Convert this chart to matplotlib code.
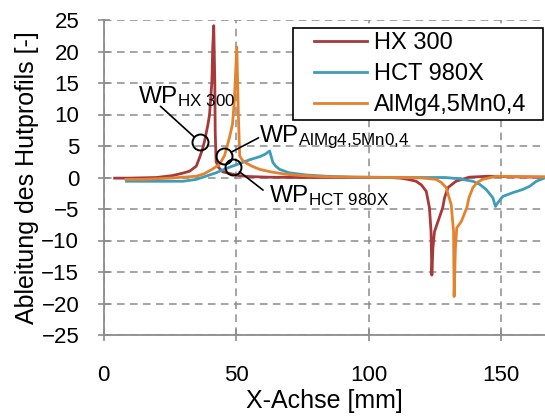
import matplotlib
matplotlib.use("Agg")
import matplotlib.pyplot as plt
from matplotlib.patches import Rectangle

plt.rcParams['font.family'] = ['Liberation Sans', 'DejaVu Sans']
plt.rcParams['mathtext.fontset'] = 'custom'
plt.rcParams['mathtext.rm'] = 'Liberation Sans'
plt.rcParams['mathtext.it'] = 'Liberation Sans'

# ---- data ----
hx_x = [4.2, 10, 20, 26, 30, 32.5, 35, 36.2, 37.2, 38.1, 39.4, 40.0, 40.9, 41.2, 41.6, 42.0, 42.15, 42.5,
        43.4, 45, 48, 51, 55, 62, 75, 95, 108, 112, 115, 118, 120, 121.8, 123, 123.6, 123.9, 124.3,
        124.9, 126.2, 128, 128.7, 130, 133, 138, 145, 155, 166.6]
hx_y = [-0.1, -0.1, 0, 0.3, 0.7, 1.0, 1.8, 3.1, 4.3, 5.7, 8.4, 9.9, 15.2, 20.5, 24.1, 15.2, 7.3, 2.5,
        1.6, 0.9, 0.6, 0.3, 0.15, 0.05, 0, 0, 0, -0.1, -0.3, -0.6, -1.2, -2.2, -4.8, -8.6, -15.5, -11.2,
        -8.6, -7.0, -4.8, -3.2, -1.6, -0.6, 0.05, 0.2, 0.1, 0.05]

hct_x = [8.7, 20, 30, 35, 40, 42.5, 45, 48, 51.3, 55, 58.9, 61, 62.7, 63.9, 65, 66.4, 70, 76.5, 84, 95,
         110, 125, 129, 134, 139.4, 142, 144.4, 146.9, 147.9, 148.8, 150.7, 154.5, 158.2, 160.8,
         163.3, 166.6]
hct_y = [-0.6, -0.6, -0.6, -0.3, 0.4, 0.75, 1.2, 1.7, 2.2, 2.8, 3.3, 3.7, 4.2, 2.4, 1.8, 1.3, 0.75,
         0.4, 0.2, 0.05, 0, 0, 0, -0.2, -0.6, -1.1, -1.9, -3.2, -4.6, -4.0, -3.0, -2.4, -1.9, -1.4,
         -0.6, -0.05]

al_x = [8.5, 15, 25, 35, 38, 41, 43.8, 45.7, 47.5, 48.7, 49.4, 50.3, 50.9, 51.4, 52.5, 53.8, 56, 58.9,
        63, 69, 75, 85, 100, 115, 119, 122, 125.5, 127.5, 129.3, 131.2, 132.1, 132.3, 132.8, 133.3,
        135, 137.1, 137.9, 139.4, 141, 143.1, 148.2, 155, 166.6]
al_y = [-0.3, -0.3, -0.1, 0.2, 0.6, 1.3, 2.1, 3.5, 6.3, 8.5, 12.4, 20.7, 9.8, 3.4, 2.7, 2.3, 1.8, 1.3,
        0.9, 0.5, 0.3, 0.1, 0.05, 0, -0.05, -0.15, -0.3, -0.8, -1.6, -4.3, -8.6, -18.9, -11.2, -8.0,
        -7.0, -4.8, -3.2, -1.6, -0.8, -0.3, 0.2, 0.15, 0.1]

series_names = ["HX 300", "HCT 980X", "AlMg4,5Mn0,4"]
series_colors = ["#A8393A", "#3E9DBA", "#E5822F"]

# turning points (WP)
wp_x = [36.4, 45.4, 48.9]
wp_y = [5.6, 3.4, 1.7]
wp_labels = [r"WP$_{\rm HX\ 300}$", r"WP$_{\rm AlMg4{,}5Mn0{,}4}$", r"WP$_{\rm HCT\ 980X}$"]
wp_text_pos = [(13.0, 11.8), (58.6, 5.6), (62.4, -3.9)]
wp_line_start = [(21.5, 11.3), (58.5, 6.3), (60.2, -2.0)]

xticks = [0, 50, 100, 150]
yticks = list(range(-25, 26, 5))

fig = plt.figure(figsize=(5.45, 4.16), dpi=100)
ax = fig.add_axes([103.5 / 545, 81 / 416, 1 - 103.5 / 545, (335 - 20) / 416])

gridc = "#8c8c8c"
ax.set_xlim(0, 166.6)
ax.set_ylim(-25, 25)
ax.set_xticks(xticks)
ax.set_yticks(yticks)
ax.grid(True, color=gridc, linestyle=(0, (5, 3.5)), linewidth=1.1)
ax.set_axisbelow(True)
for s in ["top", "right"]:
    ax.spines[s].set_visible(False)
for s in ["left", "bottom"]:
    ax.spines[s].set_color(gridc)
    ax.spines[s].set_linewidth(1.3)
ax.tick_params(direction="inout", length=9, width=1.2, color=gridc, labelsize=16)
ax.tick_params(axis="x", pad=17)
ax.tick_params(axis="y", pad=13)

for xs, ys, name, c in zip([hx_x, hct_x, al_x], [hx_y, hct_y, al_y], series_names, series_colors):
    ax.plot(xs, ys, color=c, linewidth=2.0, label=name, solid_joinstyle="round")

for (px, py), lab, (tx, ty), (lx, ly) in zip(zip(wp_x, wp_y), wp_labels, wp_text_pos, wp_line_start):
    ax.plot([px], [py], marker="o", markersize=11.5, mfc="none", mec="black", mew=1.4, zorder=5)
    ax.annotate("", xy=(px, py), xytext=(lx, ly),
                arrowprops=dict(arrowstyle="-", color="black", lw=1.2, shrinkA=0, shrinkB=5.8), zorder=5)
    ax.text(tx, ty, lab, fontsize=17.5, ha="left", va="baseline", zorder=6)

ax.set_xlabel("X-Achse [mm]", fontsize=18, labelpad=2)
ax.set_ylabel("Ableitung des Hutprofils [-]", fontsize=18, labelpad=2)

# legend box (manual frame)
box = Rectangle((293 / 545, 1 - 120 / 416), (543 - 293) / 545, (120 - 28) / 416,
                transform=fig.transFigure, facecolor="white", edgecolor="black", linewidth=1.2,
                zorder=3)
fig.add_artist(box)
leg = fig.legend(loc="upper left", bbox_to_anchor=(314 / 545, 1 - 32 / 416),
                 fontsize=17, frameon=False, borderaxespad=0, handlelength=2.25,
                 labelspacing=0.38, handletextpad=0.3, borderpad=0.0)
leg.set_zorder(4)

fig.savefig("out.png", dpi=100)
